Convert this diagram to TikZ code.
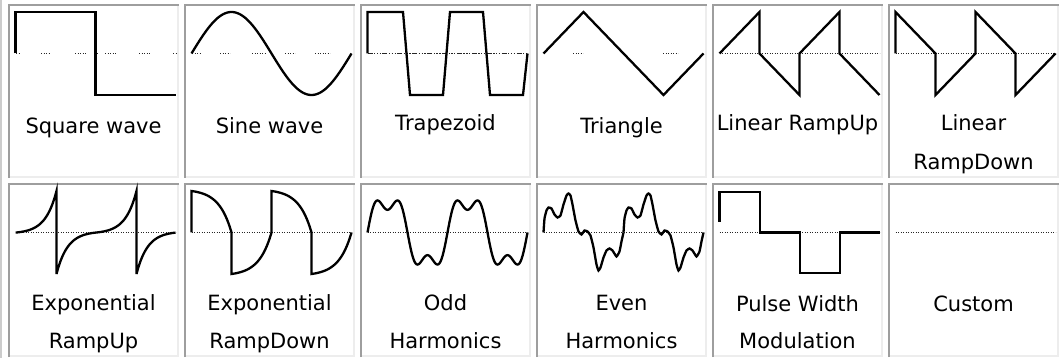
\documentclass[tikz,border=0pt]{standalone}
\usepackage{fontspec}
\setmainfont{DejaVu Sans}
\begin{document}
\begin{tikzpicture}[x=1pt,y=-1pt,
  wave/.style={line width=2.3pt,line join=miter},
  zeroline/.style={line width=1.4pt,black!85,dash pattern=on 1.3pt off 1.2pt},
  dashdots/.style={line width=1.4pt,black!85,dash pattern=on 5pt off 1.5pt on 1.3pt off 1.5pt on 1.3pt off 1.5pt on 1.3pt off 1.5pt},
  celldark/.style={line width=2pt,color=black!38},
  celllite/.style={line width=2pt,color=black!7},
  lbl/.style={anchor=base,font=\fontsize{21}{25}\selectfont}]
\useasboundingbox (0,0) rectangle (1060,358);
% table frame
\draw[celllite,black!20] (1,0) -- (1,358);
\foreach \r in {4,183}
  \foreach \c in {8,184,...,888} {
    \draw[celldark] (\c+1,\r+174) -- (\c+1,\r+1) -- (\c+171,\r+1);
    \draw[celllite] (\c+170,\r+2) -- (\c+170,\r+173) -- (\c+2,\r+173);
  }
% square wave
\begin{scope}[shift={(8,4)}]
\foreach \a/\b in {8/12,33/42,67/79,86/89,97/109,131/142,165/168}
  \draw[zeroline] (\a,49.5) -- (\b,49.5);
\draw[wave] (7.5,49.5) -- (7.5,8) -- (87.5,8) -- (87.5,91) -- (167.5,91);
\node[lbl] (square) at (85.5,130) {Square wave};
\end{scope}
% sine wave
\begin{scope}[shift={(184,4)}]
\foreach \a/\b in {8/16,36/46,68/81,101/111,131/146}
  \draw[zeroline] (\a,49.5) -- (\b,49.5);
\draw[wave] plot[domain=0:160,samples=81] ({7.5+\x},{49.5-41.5*sin(2.25*\x)});
\node[lbl] (sine) at (85.5,130) {Sine wave};
\end{scope}
% trapezoid
\begin{scope}[shift={(360,4)}]
\draw[dashdots] (7.5,49.5) -- (167.5,49.5);
\draw[wave] (7.5,49.5) -- (7.5,8) -- (43,8) -- (50,91) -- (83,91) -- (90,8) -- (123,8)
  -- (130,91) -- (163,91) -- (167.5,49.5);
\node[lbl] (trapezoid) at (85.5,127) {Trapezoid};
\end{scope}
% triangle
\begin{scope}[shift={(536,4)}]
\foreach \a/\b in {37/47,127/142}
  \draw[zeroline] (\a,49.5) -- (\b,49.5);
\draw[wave] (7.5,49.5) -- (47.5,8) -- (127.5,91) -- (167.5,49.5);
\node[lbl] (triangle) at (85.5,130) {Triangle};
\end{scope}
% linear ramp up
\begin{scope}[shift={(712,4)}]
\draw[zeroline] (7.5,49.5) -- (167.5,49.5);
\draw[wave] (7.5,49.5) -- (47.5,8) -- (47.5,49.5) -- (87.5,91) -- (87.5,49.5) -- (127.5,8)
  -- (127.5,49.5) -- (167.5,91);
\node[lbl] (rampup) at (85.5,127) {Linear RampUp};
\end{scope}
% linear ramp down
\begin{scope}[shift={(888,4)}]
\draw[zeroline] (7.5,49.5) -- (167.5,49.5);
\draw[wave] (7.5,49.5) -- (7.5,8) -- (47.5,49.5) -- (47.5,91) -- (87.5,49.5) -- (87.5,8)
  -- (127.5,49.5) -- (127.5,91) -- (167.5,49.5);
\node[lbl] (rampdown1) at (85.5,127) {Linear};
\node[lbl] (rampdown2) at (85.5,166) {RampDown};
\end{scope}
% exponential ramp up
\begin{scope}[shift={(8,183)}]
\draw[zeroline] (7.5,49.5) -- (167.5,49.5);
\draw[wave] (7.5,49.5)
  -- plot[domain=8.5:48.5,samples=41] (\x,{49.5-41.5*(exp(-0.09*(48.5-\x))-0.0273)/0.9727})
  -- (48.5,91)
  -- plot[domain=48.5:88.5,samples=41] (\x,{49.5+41.5*(exp(-0.09*(\x-48.5))-0.0273)/0.9727})
  -- plot[domain=88.5:128.5,samples=41] (\x,{49.5-41.5*(exp(-0.09*(128.5-\x))-0.0273)/0.9727})
  -- (128.5,91)
  -- plot[domain=128.5:167.5,samples=40] (\x,{49.5+41.5*(exp(-0.09*(\x-128.5))-0.0273)/0.9727});
\node[lbl] (expup1) at (85.5,127) {Exponential};
\node[lbl] (expup2) at (85.5,165) {RampUp};
\end{scope}
% exponential ramp down
\begin{scope}[shift={(184,183)}]
\draw[zeroline] (7.5,49.5) -- (167.5,49.5);
\draw[wave] (7.5,49.5) -- (7.5,8)
  -- plot[domain=7.5:47.5,samples=41] (\x,{49.5-41.5*(1-exp(0.08*(\x-47.5)))/0.9592})
  -- (47.5,91)
  -- plot[domain=47.5:87.5,samples=41] (\x,{49.5+41.5*(1-exp(0.08*(\x-87.5)))/0.9592})
  -- (87.5,8)
  -- plot[domain=87.5:127.5,samples=41] (\x,{49.5-41.5*(1-exp(0.08*(\x-127.5)))/0.9592})
  -- (127.5,91)
  -- plot[domain=127.5:167.5,samples=41] (\x,{49.5+41.5*(1-exp(0.08*(\x-167.5)))/0.9592});
\node[lbl] (expdown1) at (85.5,127) {Exponential};
\node[lbl] (expdown2) at (85.5,165) {RampDown};
\end{scope}
% odd harmonics
\begin{scope}[shift={(360,183)}]
\draw[zeroline] (7.5,49.5) -- (167.5,49.5);
\draw[wave] plot[domain=0:160,samples=161] ({7.5+\x},{49.5-34*(sin(4.5*\x)+sin(13.5*\x)/3)});
\node[lbl] (odd1) at (85.5,127) {Odd};
\node[lbl] (odd2) at (85.5,165) {Harmonics};
\end{scope}
% even harmonics
\begin{scope}[shift={(536,183)}]
\draw[zeroline] (7.5,49.5) -- (167.5,49.5);
\foreach \p in {0,80}
  \draw[wave,xshift=\p] plot[smooth,tension=.25] coordinates {(7.5,49.5) (8.5,35.5) (10.5,27.5)
    (12.5,24.5) (15.5,25.5) (18.5,31.5) (21.5,34.5) (24.5,32.5) (27.5,21.5) (30.5,12.5)
    (32.5,10.5) (34.5,12.5) (36.5,21.5) (39.5,37.5) (42.5,48.5) (45.5,51.5) (48.5,47.5)
    (51.5,48.5) (54.5,52.5) (57.5,64.5) (60.5,81.5) (62.5,87.5) (64.5,84.5) (67.5,74.5)
    (70.5,67.5) (73.5,65.5) (76.5,67.5) (80.5,73.5) (83.5,68.5) (85.5,58.5) (87.5,49.5)};
\node[lbl] (even1) at (85.5,127) {Even};
\node[lbl] (even2) at (85.5,165) {Harmonics};
\end{scope}
% pulse width modulation
\begin{scope}[shift={(712,183)}]
\draw[zeroline] (7.5,49.5) -- (167.5,49.5);
\draw[wave] (7.5,39) -- (7.5,9) -- (48,9) -- (48,49.5) -- (88,49.5) -- (88,90) -- (128,90)
  -- (128,49.5) -- (167.5,49.5);
\node[lbl] (pwm1) at (85.5,128) {Pulse Width};
\node[lbl] (pwm2) at (85.5,165) {Modulation};
\end{scope}
% custom
\begin{scope}[shift={(888,183)}]
\draw[zeroline] (7.5,49.5) -- (167.5,49.5);
\node[lbl] (custom) at (85.5,128) {Custom};
\end{scope}
\end{tikzpicture}
\end{document}
